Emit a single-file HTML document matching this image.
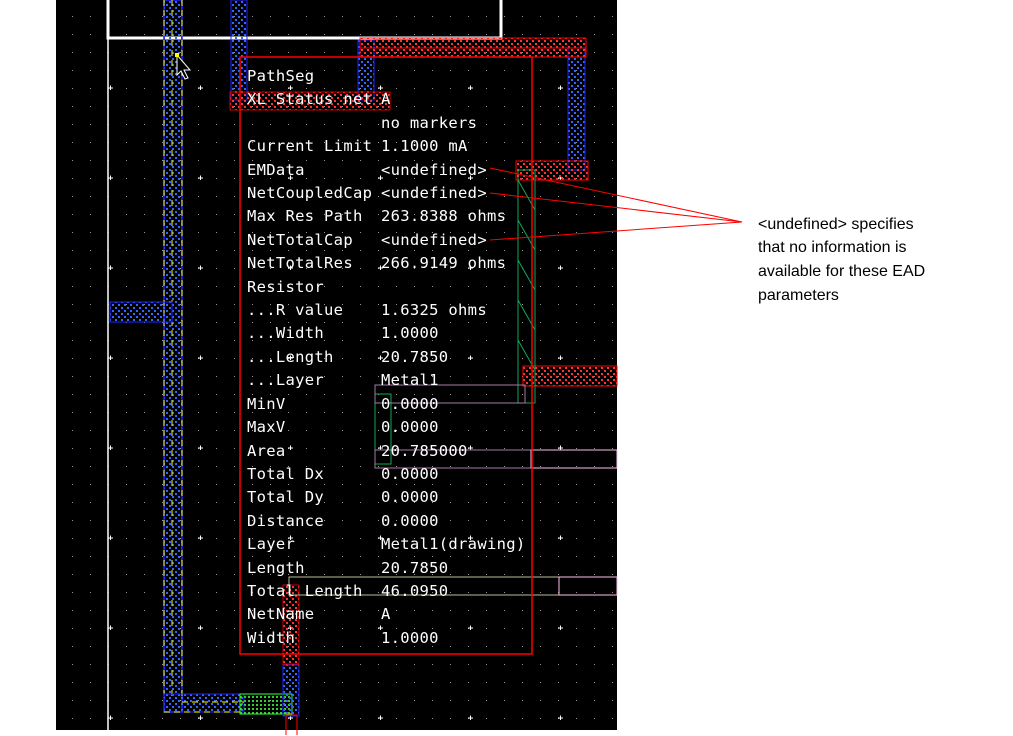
<!DOCTYPE html>
<html><head><meta charset="utf-8"><style>
html,body{margin:0;padding:0;background:#fff;width:1013px;height:736px;overflow:hidden}
svg{display:block}
.t{font-family:"DejaVu Sans Mono","Liberation Mono",monospace;font-size:15.5px;letter-spacing:0.3px;fill:#fff}
.c{font-family:"Liberation Sans",sans-serif;font-size:16px;fill:#000}
</style></head><body>
<svg width="1013" height="736" xmlns="http://www.w3.org/2000/svg">
<defs>
<pattern id="g" x="56" y="0" width="18" height="18" patternUnits="userSpaceOnUse">
<rect x="16" y="16" width="1" height="1" fill="#999"/></pattern>
<pattern id="p" x="56" y="0" width="90" height="90" patternUnits="userSpaceOnUse">
<path d="M52 88h5M54.5 85.5v5" stroke="#fff" stroke-width="1"/></pattern>
<pattern id="db" width="6" height="6" patternUnits="userSpaceOnUse"><rect x="1" y="1" width="2" height="2" fill="#36f"/><rect x="4" y="4" width="2" height="2" fill="#36f"/></pattern>
<pattern id="dr" width="6" height="6" patternUnits="userSpaceOnUse"><rect x="1" y="1" width="2" height="2" fill="#f33"/><rect x="4" y="4" width="2" height="2" fill="#f33"/></pattern>
<pattern id="dg" width="4" height="4" patternUnits="userSpaceOnUse"><rect x="0" y="0" width="2" height="2" fill="#3c3"/></pattern>
</defs>
<rect x="56" y="0" width="561" height="730" fill="#000"/>
<rect x="56" y="0" width="561" height="730" fill="url(#g)"/>
<rect x="56" y="0" width="561" height="730" fill="url(#p)"/>
<rect x="108" y="-5" width="393" height="43" fill="none" stroke="#fff" stroke-width="3"/>
<line x1="108" y1="38" x2="108" y2="730" stroke="#fff" stroke-width="1.5"/>
<rect x="164" y="0" width="18" height="712" fill="url(#db)" stroke="#22f" stroke-width="1.5"/>
<line x1="164" y1="0" x2="164" y2="712" stroke="#ff0" stroke-dasharray="6,4"/>
<line x1="172" y1="0" x2="172" y2="700" stroke="#ff0" stroke-dasharray="6,4"/>
<line x1="182" y1="0" x2="182" y2="700" stroke="#ff0" stroke-dasharray="6,4"/>
<rect x="164" y="694" width="80" height="18" fill="url(#db)" stroke="#22f"/>
<line x1="164" y1="712" x2="244" y2="712" stroke="#ff0" stroke-dasharray="6,4"/>
<line x1="182" y1="702" x2="244" y2="702" stroke="#ff0" stroke-dasharray="6,4"/>
<rect x="240" y="694" width="52" height="20" fill="url(#dg)" stroke="#3f3"/>
<rect x="283" y="664" width="16" height="52" fill="url(#db)" stroke="#22f"/>
<rect x="283" y="585" width="16" height="80" fill="url(#dr)" stroke="#c00"/>
<polyline points="286,735 286,715 297,715 297,735" fill="none" stroke="#f00"/>
<rect x="110" y="302" width="62" height="20" fill="url(#db)" stroke="#22f"/>
<path d="M177 55 L177 75 L181 71 L185 79 L188 78 L184 70 L190 70 Z" fill="#000" stroke="#fff"/>
<rect x="175" y="53" width="4" height="4" fill="#ff0"/>
<rect x="231" y="0" width="16" height="100" fill="url(#db)" stroke="#22f"/>
<rect x="358" y="40" width="16" height="60" fill="url(#db)" stroke="#22f"/>
<rect x="568" y="48" width="17" height="122" fill="url(#db)" stroke="#22f"/>
<rect x="360" y="38" width="226" height="19" fill="url(#dr)" stroke="#f00"/>
<line x1="360" y1="48" x2="586" y2="48" stroke="#f00"/>
<rect x="516" y="161" width="72" height="19" fill="url(#dr)" stroke="#f00"/>
<rect x="230" y="92" width="160" height="18" fill="url(#dr)" stroke="#c00"/>
<rect x="523" y="366" width="94" height="20" fill="url(#dr)" stroke="#f00"/>
<rect x="518" y="170" width="17" height="233" fill="none" stroke="#1a5"/>
<path d="M518 180 L535 210 M518 220 L535 250 M518 260 L535 290 M518 300 L535 330 M518 340 L535 370" stroke="#1a5"/>
<rect x="375" y="394" width="16" height="70" fill="none" stroke="#1a5"/>
<rect x="375" y="385" width="150" height="18" fill="none" stroke="#a7a"/>
<rect x="375" y="450" width="242" height="18" fill="none" stroke="#a7a"/>
<rect x="531" y="450" width="86" height="18" fill="none" stroke="#fbe"/>
<rect x="289" y="577" width="270" height="18" fill="none" stroke="#bb9"/>
<rect x="559" y="577" width="58" height="18" fill="none" stroke="#fbe"/>
<rect x="240" y="57" width="292" height="597" fill="none" stroke="#f00" stroke-width="1.5"/>
<g class="t">
<text x="247" y="81">PathSeg</text>
<text x="247" y="104">XL Status net</text><text x="381" y="104">A</text>
<text x="381" y="128">no markers</text>
<text x="247" y="151">Current Limit</text><text x="381" y="151">1.1000 mA</text>
<text x="247" y="175">EMData</text><text x="381" y="175">&lt;undefined&gt;</text>
<text x="247" y="198">NetCoupledCap</text><text x="381" y="198">&lt;undefined&gt;</text>
<text x="247" y="221">Max Res Path</text><text x="381" y="221">263.8388 ohms</text>
<text x="247" y="245">NetTotalCap</text><text x="381" y="245">&lt;undefined&gt;</text>
<text x="247" y="268">NetTotalRes</text><text x="381" y="268">266.9149 ohms</text>
<text x="247" y="292">Resistor</text>
<text x="247" y="315">...R value</text><text x="381" y="315">1.6325 ohms</text>
<text x="247" y="338">...Width</text><text x="381" y="338">1.0000</text>
<text x="247" y="362">...Length</text><text x="381" y="362">20.7850</text>
<text x="247" y="385">...Layer</text><text x="381" y="385">Metal1</text>
<text x="247" y="409">MinV</text><text x="381" y="409">0.0000</text>
<text x="247" y="432">MaxV</text><text x="381" y="432">0.0000</text>
<text x="247" y="456">Area</text><text x="381" y="456">20.785000</text>
<text x="247" y="479">Total Dx</text><text x="381" y="479">0.0000</text>
<text x="247" y="502">Total Dy</text><text x="381" y="502">0.0000</text>
<text x="247" y="526">Distance</text><text x="381" y="526">0.0000</text>
<text x="247" y="549">Layer</text><text x="381" y="549">Metal1(drawing)</text>
<text x="247" y="573">Length</text><text x="381" y="573">20.7850</text>
<text x="247" y="596">Total Length</text><text x="381" y="596">46.0950</text>
<text x="247" y="619">NetName</text><text x="381" y="619">A</text>
<text x="247" y="643">Width</text><text x="381" y="643">1.0000</text>
</g>
<line x1="490" y1="168" x2="742" y2="222" stroke="#f00"/>
<line x1="490" y1="193" x2="742" y2="222" stroke="#f00"/>
<line x1="490" y1="240" x2="742" y2="222" stroke="#f00"/>
<g class="c">
<text x="758" y="229">&lt;undefined&gt; specifies</text>
<text x="758" y="252">that no information is</text>
<text x="758" y="276">available for these EAD</text>
<text x="758" y="300">parameters</text>
</g>
</svg>
</body></html>
